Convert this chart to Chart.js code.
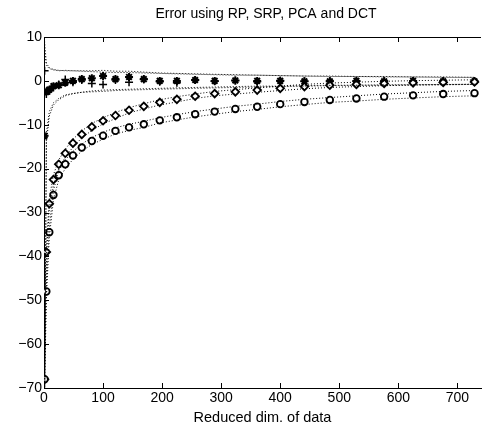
<!DOCTYPE html>
<html>
<head>
<meta charset="utf-8">
<script src="https://cdn.jsdelivr.net/npm/chart.js@4/dist/chart.umd.min.js"></script>
<style>
    body { margin: 0; background: #fff; }
    canvas { display: block; }
</style>
</head>
<body>
<canvas id="error-chart" width="487" height="427"></canvas>
<script>
const ctx = document.getElementById("error-chart");

// reduced dimensions (1^2 .. 27^2)
const dims = [1, 4, 9, 16, 25, 36, 49, 64, 81, 100, 121, 144, 169, 196, 225, 256, 289, 324, 361, 400, 441, 484, 529, 576, 625, 676, 729];

// RP (+)
const rpMean = [2.3, -3.0, -2.2, -1.5, -0.8, 0.3, -0.3, 0.2, -0.6, -0.8, 0.2, -0.3, 0.3, -0.2, -0.4, 0.2, -0.1, 0.1, -0.2, 0.1, -0.1, 0.0, -0.1, 0.0, -0.1, 0.0, -0.1];
const rpLo = [-80, -12, -7, -5, -4, -3.2, -2.9, -2.6, -2.5, -2.4, -2.2, -2.1, -2.0, -1.9, -1.8, -1.7, -1.6, -1.5, -1.4, -1.3, -1.2, -1.1, -1.0, -1.0, -0.9, -0.9, -0.8];
const rpHi = [9, 4, 3, 2.6, 2.4, 2.3, 2.3, 2.2, 2.1, 2.0, 1.9, 1.9, 1.8, 1.7, 1.6, 1.5, 1.4, 1.3, 1.3, 1.2, 1.1, 1.0, 1.0, 0.9, 0.9, 0.8, 0.8];

// SRP (*)
const srpMean = [-12.5, -2.5, -2.0, -1.2, -1.0, -0.4, 0.0, 0.4, 0.6, 1.1, 0.4, 0.9, 0.4, 0.0, 0.0, 0.2, 0.0, 0.1, 0.0, 0.0, -0.1, -0.1, 0.0, -0.1, 0.0, -0.1, -0.1];
const srpLo = [-75, -14, -8, -5.5, -4.3, -3.4, -2.9, -2.6, -2.3, -2.1, -2.0, -1.9, -1.8, -1.7, -1.6, -1.5, -1.4, -1.3, -1.2, -1.2, -1.1, -1.0, -1.0, -0.9, -0.9, -0.8, -0.8];
const srpHi = [7, 3.5, 2.8, 2.5, 2.3, 2.4, 2.3, 2.3, 2.3, 2.4, 2.2, 2.2, 2.0, 1.8, 1.7, 1.6, 1.5, 1.4, 1.3, 1.2, 1.1, 1.1, 1.0, 1.0, 0.9, 0.9, 0.8];

// PCA (o)
const pcaMean = [-68, -48, -34.5, -26, -21.5, -19, -17, -15.2, -13.7, -12.5, -11.4, -10.6, -9.9, -9.0, -8.3, -7.6, -7.0, -6.4, -5.9, -5.3, -4.8, -4.35, -4.0, -3.6, -3.3, -3.0, -2.8];
const pcaLo = [-70, -49.5, -35.7, -27.1, -22.5, -20, -17.9, -16.0, -14.5, -13.3, -12.1, -11.3, -10.6, -9.6, -8.9, -8.2, -7.6, -7.0, -6.5, -5.9, -5.4, -4.9, -4.6, -4.2, -3.9, -3.6, -3.4];
const pcaHi = [-66, -46.5, -33.3, -24.9, -20.5, -18, -16.1, -14.4, -12.9, -11.7, -10.7, -9.9, -9.2, -8.4, -7.7, -7.0, -6.4, -5.8, -5.3, -4.7, -4.2, -3.8, -3.4, -3.0, -2.7, -2.4, -2.2];

// DCT (diamond)
const dctMean = [-68, -39, -28, -22.5, -19, -16.5, -14.2, -12.2, -10.5, -9.1, -7.9, -6.7, -5.8, -4.9, -4.2, -3.5, -2.9, -2.5, -2.1, -1.7, -1.3, -1.0, -0.8, -0.6, -0.45, -0.35, -0.25];
const dctLo = [-70, -40.5, -29.2, -23.6, -20, -17.4, -15.1, -13.0, -11.3, -9.8, -8.6, -7.3, -6.4, -5.5, -4.8, -4.0, -3.4, -3.0, -2.6, -2.2, -1.8, -1.5, -1.3, -1.1, -0.95, -0.85, -0.75];
const dctHi = [-66, -37.5, -26.8, -21.4, -18, -15.6, -13.3, -11.4, -9.7, -8.4, -7.2, -6.1, -5.2, -4.3, -3.6, -3.0, -2.4, -2.0, -1.6, -1.2, -0.8, -0.5, -0.3, -0.1, 0.05, 0.15, 0.25];

const xTicks = [0, 100, 200, 300, 400, 500, 600, 700];
const yTicks = [-70, -60, -50, -40, -30, -20, -10, 0, 10];
const title = "Error using RP, SRP, PCA and DCT";
const xLabel = "Reduced dim. of data";

Chart.defaults.font.family = "'Liberation Sans', Arial, Helvetica, sans-serif";
Chart.defaults.color = "#000";

const pts = (ys) => dims.map((d, i) => ({ x: d, y: ys[i] }));

function band(ys) {
    return {
        data: pts(ys),
        showLine: true,
        borderColor: "#000",
        borderWidth: 1,
        borderDash: [1, 2],
        pointRadius: 0,
        fill: false,
    };
}

function marks(ys, style, radius, width) {
    return {
        data: pts(ys),
        showLine: false,
        pointStyle: style,
        pointRadius: radius,
        pointBorderWidth: width,
        pointBorderColor: "#000",
        pointBackgroundColor: "#fff",
    };
}

// inward ticks, top frame line and title text
const matlabFrame = {
    id: "matlabFrame",
    afterDraw(chart) {
        const c = chart.ctx;
        const a = chart.chartArea;
        const xs = chart.scales.x;
        const ys = chart.scales.y;
        c.save();
        c.strokeStyle = "#000";
        c.lineWidth = 1;
        c.beginPath();
        c.moveTo(a.left, a.top + 0.5);
        c.lineTo(a.right, a.top + 0.5);
        xTicks.forEach((v) => {
            const px = Math.round(xs.getPixelForValue(v)) + 0.5;
            c.moveTo(px, a.bottom);
            c.lineTo(px, a.bottom - 5);
            c.moveTo(px, a.top);
            c.lineTo(px, a.top + 5);
        });
        yTicks.forEach((v) => {
            const py = Math.round(ys.getPixelForValue(v)) + 0.5;
            c.moveTo(a.left, py);
            c.lineTo(a.left + 5, py);
        });
        c.stroke();
        c.fillStyle = "#000";
        c.font = "14px 'Liberation Sans', Arial, sans-serif";
        c.textAlign = "center";
        c.textBaseline = "middle";
        c.fillText(title, 266, 14);
        c.restore();
    },
};

new Chart(ctx, {
    type: "scatter",
    data: {
        datasets: [
            band(rpLo), band(rpHi),
            band(srpLo), band(srpHi),
            band(pcaLo), band(pcaHi),
            band(dctLo), band(dctHi),
            marks(pcaMean, "circle", 3.3, 1.8),
            marks(dctMean, "rectRot", 3.8, 1.8),
            marks(rpMean, "cross", 4, 1.5),
            marks(srpMean, "star", 4, 2),
        ],
    },
    options: {
        responsive: false,
        animation: false,
        layout: { padding: { top: 37, left: 0, right: 0, bottom: 0 } },
        plugins: {
            legend: { display: false },
            tooltip: { enabled: false },
        },
        scales: {
            x: {
                type: "linear",
                min: 0,
                max: 740,
                afterBuildTicks: (s) => { s.ticks = xTicks.map((v) => ({ value: v })); },
                afterFit: (s) => { s.height = 39; },
                ticks: { font: { size: 14 }, color: "#000", padding: 2, maxRotation: 0 },
                grid: { display: false, drawTicks: false },
                border: { display: true, color: "#000", width: 1 },
                title: { display: true, text: xLabel, font: { size: 14.5 }, color: "#000", padding: 0 },
            },
            y: {
                min: -70,
                max: 10,
                afterBuildTicks: (s) => { s.ticks = yTicks.map((v) => ({ value: v })); },
                afterFit: (s) => { s.width = 44; },
                ticks: {
                    font: { size: 14 },
                    color: "#000",
                    padding: 2,
                    callback: (v) => String(v).replace("-", "\u2212"),
                },
                grid: { display: false, drawTicks: false },
                border: { display: true, color: "#000", width: 1 },
            },
        },
    },
    plugins: [matlabFrame],
});
</script>
</body>
</html>
